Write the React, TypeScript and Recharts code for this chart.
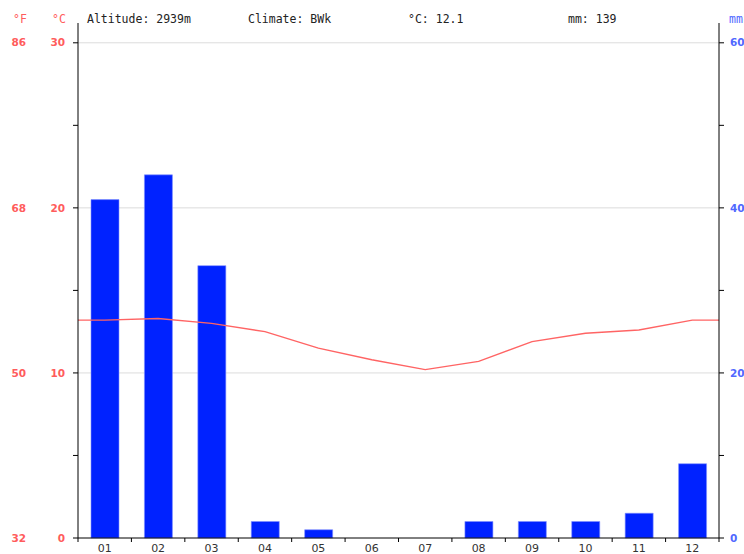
import { Bar, CartesianGrid, ComposedChart, Line, XAxis, YAxis } from 'recharts'

const months = ['01', '02', '03', '04', '05', '06', '07', '08', '09', '10', '11', '12']
const precipitation = [41, 44, 33, 2, 1, 0, 0, 2, 2, 2, 3, 9]
const temperature = [13.2, 13.3, 13.0, 12.5, 11.5, 10.8, 10.2, 10.7, 11.9, 12.4, 12.6, 13.2]
const celsiusTicks = [0, 5, 10, 15, 20, 25, 30]
const celsiusLabels = [0, 10, 20, 30]
const fahrenheitLabels = ['32', '50', '68', '86']
const precipTicks = [0, 10, 20, 30, 40, 50, 60]
const precipLabels = [0, 20, 40, 60]
const altitude = '2939m'
const climate = 'BWk'

const W = 744
const H = 554
const PLOT_LEFT = 78
const PLOT_RIGHT = 719
const PLOT_BOTTOM = 538
const BAND = (PLOT_RIGHT - PLOT_LEFT) / months.length

const RED = '#ff5c5c'
const BLUE = '#5068ff'
const MONO = '"DejaVu Sans Mono", monospace'
const SANS = '"DejaVu Sans", sans-serif'

const barData = months.map((m, i) => ({ month: m, mm: precipitation[i] }))
// the temperature line runs flat out to both axes
const lineData = [
  { x: 0, t: temperature[0] },
  ...temperature.map((t, i) => ({ x: i + 0.5, t })),
  { x: months.length, t: temperature[temperature.length - 1] },
]

const meanTemp = temperature.reduce((a, b) => a + b, 0) / temperature.length
const totalPrecip = precipitation.reduce((a, b) => a + b, 0)

function TempTick({ x, y, payload }: any) {
  const idx = celsiusLabels.indexOf(payload.value)
  if (idx < 0) return null
  return (
    <g fontFamily={SANS} fontSize={10.5} fontWeight="bold" fill={RED}>
      <text x={x} y={y} dy="0.35em" textAnchor="end">{payload.value}</text>
      <text x={x - 39} y={y} dy="0.35em" textAnchor="end">{fahrenheitLabels[idx]}</text>
    </g>
  )
}

function PrecipTick({ x, y, payload }: any) {
  if (!precipLabels.includes(payload.value)) return null
  return (
    <text x={x} y={y} dy="0.35em" textAnchor="start" fontFamily={SANS} fontSize={10.5} fontWeight="bold" fill={BLUE}>
      {payload.value}
    </text>
  )
}

function MonthTick({ x, y, payload, index }: any) {
  const left = x - BAND / 2
  return (
    <g>
      <line x1={left} x2={left} y1={PLOT_BOTTOM} y2={PLOT_BOTTOM + 4} stroke="#000" />
      {index === months.length - 1 && (
        <line x1={x + BAND / 2} x2={x + BAND / 2} y1={PLOT_BOTTOM} y2={PLOT_BOTTOM + 4} stroke="#000" />
      )}
      <text x={x} y={y} dy="0.71em" textAnchor="middle" fontFamily={SANS} fontSize={11} fill="#333">
        {payload.value}
      </text>
    </g>
  )
}

const headerStyle = (left: number, color = '#222') => ({
  position: 'absolute' as const,
  left,
  top: 12,
  fontFamily: MONO,
  fontSize: 11.5,
  color,
  whiteSpace: 'nowrap' as const,
})

export default function App() {
  return (
    <div style={{ position: 'absolute', left: 0, top: 0, width: W, height: H, background: '#fff', overflow: 'hidden' }}>
      <ComposedChart width={W} height={H} data={barData} margin={{ top: 23, right: 0, bottom: 0, left: 8 }}>
        <CartesianGrid
          xAxisId="cat"
          yAxisId="t"
          vertical={false}
          horizontalValues={celsiusLabels.slice(1)}
          stroke="#dcdcdc"
        />
        <XAxis
          xAxisId="cat"
          dataKey="month"
          height={16}
          axisLine={{ stroke: '#000' }}
          tickLine={false}
          tickSize={4}
          tickMargin={2}
          interval={0}
          tick={<MonthTick />}
        />
        <XAxis xAxisId="num" type="number" dataKey="x" domain={[0, months.length]} hide />
        <YAxis
          yAxisId="t"
          orientation="left"
          width={70}
          type="number"
          domain={[0, 31.2]}
          ticks={celsiusTicks}
          axisLine={{ stroke: '#000' }}
          tickLine={{ stroke: '#000' }}
          tickSize={5}
          tickMargin={8}
          tick={<TempTick />}
        />
        <YAxis
          yAxisId="p"
          orientation="right"
          width={25}
          type="number"
          domain={[0, 62.4]}
          ticks={precipTicks}
          axisLine={{ stroke: '#000' }}
          tickLine={{ stroke: '#000' }}
          tickSize={5}
          tickMargin={6}
          tick={<PrecipTick />}
        />
        <Bar
          xAxisId="cat"
          yAxisId="p"
          dataKey="mm"
          barSize={28}
          fill="#0022ff"
          stroke="#7f90ff"
          strokeWidth={0.6}
          isAnimationActive={false}
        />
        <Line
          xAxisId="num"
          yAxisId="t"
          data={lineData}
          dataKey="t"
          type="linear"
          stroke="#ff6464"
          strokeWidth={1.4}
          dot={false}
          activeDot={false}
          isAnimationActive={false}
        />
      </ComposedChart>
      <div style={headerStyle(13, RED)}>°F</div>
      <div style={headerStyle(52, RED)}>°C</div>
      <div style={headerStyle(87)}>Altitude: {altitude}</div>
      <div style={headerStyle(248)}>Climate: {climate}</div>
      <div style={headerStyle(408)}>°C: {meanTemp.toFixed(1)}</div>
      <div style={headerStyle(568)}>mm: {totalPrecip}</div>
      <div style={headerStyle(729, BLUE)}>mm</div>
    </div>
  )
}
